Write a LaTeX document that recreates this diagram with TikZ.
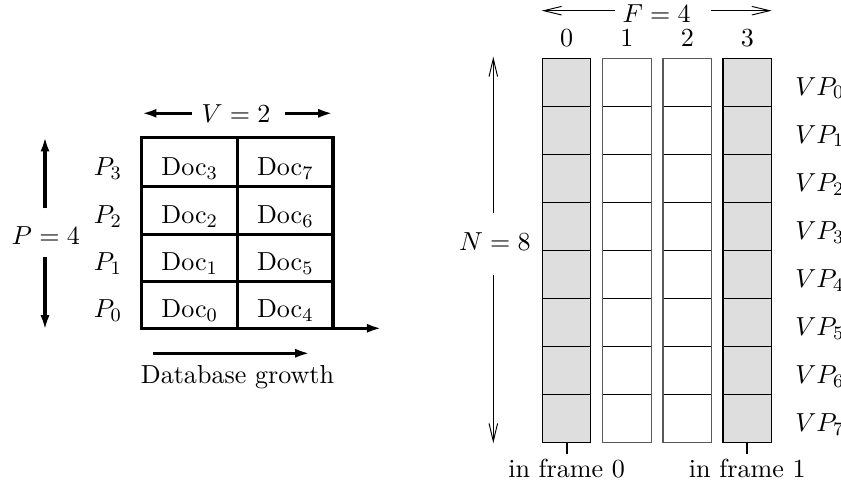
\documentclass[tikz,border=0pt]{standalone}
\usetikzlibrary{arrows.meta}
\definecolor{cellgrey}{gray}{0.87}
\begin{document}
\begin{tikzpicture}[x=0.42pt,y=-0.42pt,
  heavy/.style={line width=1.3pt,line join=miter},
  heavyarrow/.style={line width=1.3pt,-{Latex[length=6.2pt,width=3.8pt]}},
  thinarrow/.style={line width=0.4pt,-{Straight Barb[length=7.5pt,width=3.6pt]}},
  thin/.style={line width=0.45pt},
  lbl/.style={anchor=base,inner sep=0pt,font=\fontsize{10.95}{13}\selectfont},
  lblw/.style={lbl,anchor=base west}]
\useasboundingbox (0,0) rectangle (841,487);

% ---------------- left: documents spread over processors ----------------
\coordinate (g00) at (141.7,328.3);
\draw[heavy] (141.7,137.7) rectangle (333,328.3);
\foreach \y in {186.7,234.3,281.7} \draw[heavy] (141.7,\y) -- (333,\y);
\draw[heavy] (237.7,137.7) -- (237.7,328.3);
\coordinate (growthend) at (381.7,328.3);
\draw[heavyarrow] (g00) -- (growthend);

% cell texts, processor labels
\foreach \r/\yb in {0/317.3,1/270.7,2/223.3,3/175.7}{
  \pgfmathtruncatemacro{\s}{\r+4}
  \node[lbl] (doc\r) at (189.7,\yb) {$\mathrm{Doc}_{\r}$};
  \node[lbl] (doc\s) at (285.3,\yb) {$\mathrm{Doc}_{\s}$};
  \node[lbl] (p\r) at (108,\yb) {$P_{\r}$};
}

% V = 2
\node[lbl] (vlabel) at (236,122.5) {$V=2$};
\coordinate (vls) at (191.7,113.3);
\coordinate (vl) at (141.7,113.3);
\coordinate (vrs) at (285,113.3);
\coordinate (vr) at (333,113.3);
\draw[heavyarrow] (vls) -- (vl);
\draw[heavyarrow] (vrs) -- (vr);

% P = 4
\node[lbl] (plabel) at (45.8,245) {$P=4$};
\coordinate (pt) at (45,136.7);
\coordinate (pb) at (45,330);
\coordinate (ptin) at (45,208.3);
\coordinate (pbin) at (45,256.7);
\draw[heavyarrow] (ptin) -- (pt);
\draw[heavyarrow] (pbin) -- (pb);

% database growth
\coordinate (dga) at (153.3,353.3);
\coordinate (dgb) at (310,353.3);
\draw[heavyarrow] (dga) -- (dgb);
\node[lbl] (dgtext) at (237.5,383.3) {Database growth};

% ---------------- right: virtual processors in frames ----------------
\foreach \c/\xl in {0/542.3,1/602.7,2/663,3/723}{
  \pgfmathsetmacro{\xr}{\xl+48.5}
  \ifnum\c=0 \def\fillc{cellgrey}\def\edgec{black}\else
  \ifnum\c=3 \def\fillc{cellgrey}\def\edgec{black}\else
  \def\fillc{white}\def\edgec{black!65}\fi\fi
  \fill[\fillc] (\xl,58.3) rectangle (\xr,442.3);
  \foreach \k in {1,...,7}
    \draw[thin] (\xl,58.3+48*\k) -- (\xr,58.3+48*\k);
  \draw[thin,\edgec] (\xl,58.3) rectangle (\xr,442.3);
  \node[lbl] (col\c) at (\xl+24.3,46.7) {$\c$};
  \coordinate (colbot\c) at (\xl+24.3,442.3);
}

% VP labels
\foreach \k in {0,...,7}
  \node[lblw] (vp\k) at (795,{58.3+48*\k+36.8}) {$VP_{\k}$};

% F = 4
\node[lbl] (flabel) at (656.7,22.7) {$F=4$};
\coordinate (fls) at (615,10.7);
\coordinate (fl) at (541.7,10.7);
\coordinate (frs) at (710.7,10.7);
\coordinate (fr) at (771.7,10.7);
\draw[thinarrow] (fls) -- (fl);
\draw[thinarrow] (frs) -- (fr);

% N = 8
\node[lbl] (nlabel) at (495,251) {$N=8$};
\coordinate (nts) at (493.3,213);
\coordinate (nt) at (493.3,56.7);
\coordinate (nbs) at (493.3,275);
\coordinate (nb) at (493.3,443.3);
\draw[thinarrow] (nts) -- (nt);
\draw[thinarrow] (nbs) -- (nb);

% frame markers
\coordinate (tick0) at (566.6,454.3);
\coordinate (tick3) at (747.3,454.3);
\draw[line width=0.8pt] (colbot0) -- (tick0);
\draw[line width=0.8pt] (colbot3) -- (tick3);
\node[lbl] (frame0) at (566.6,477.3) {in frame 0};
\node[lbl] (frame1) at (747.3,477.3) {in frame 1};
\end{tikzpicture}
\end{document}
